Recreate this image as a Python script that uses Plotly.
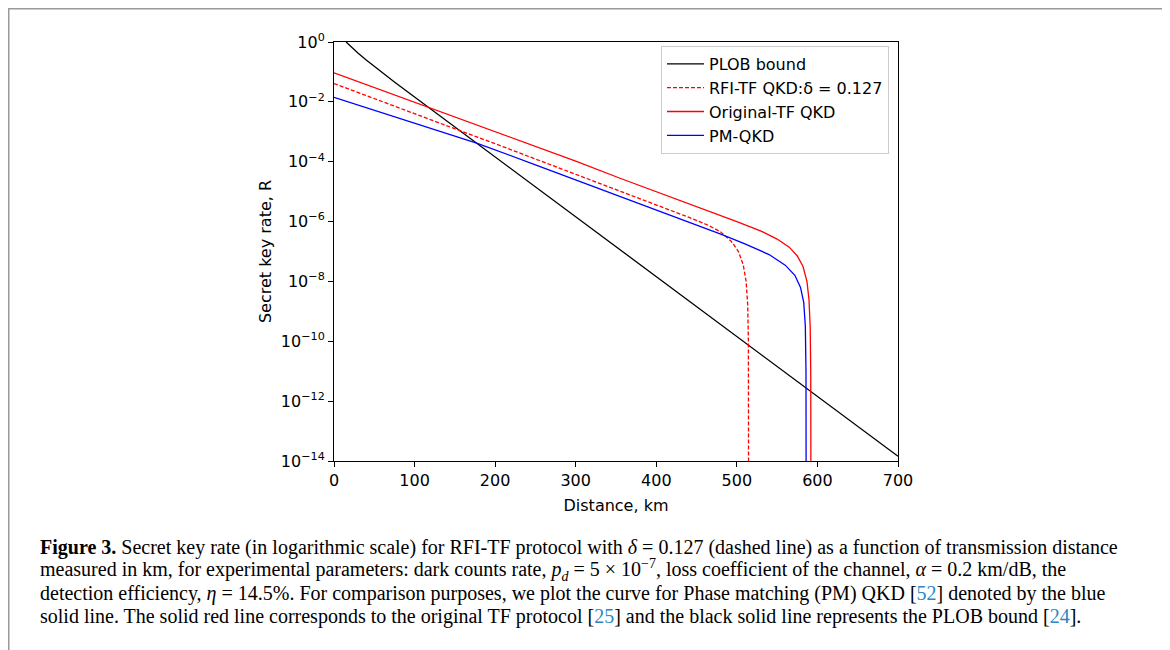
import plotly.graph_objects as go

# ---- data ----
plob_km = [15, 20, 30, 40, 50, 75, 100, 150, 200, 300, 400, 500, 600, 700]
plob_rate = [1.0, 0.73, 0.42, 0.25, 0.152, 0.046, 0.0145, 1.45e-3, 1.44e-4,
             1.44e-6, 1.44e-8, 1.44e-10, 1.44e-12, 1.44e-14]

rfi_km = [0, 50, 100, 154, 200, 300, 355, 400, 440, 465, 480, 493, 502,
          508, 511.5, 513.5, 514.3, 514.6]
rfi_rate = [0.041, 0.0126, 4.0e-3, 1.15e-3, 4.0e-4, 3.8e-5, 1.07e-5, 3.7e-6,
            1.4e-6, 7.4e-7, 4.5e-7, 2.2e-7, 1.0e-7, 3.5e-8, 1.0e-8, 1.6e-9,
            1.0e-10, 1e-16]

tf_km = [0, 50, 100, 150, 200, 300, 355, 400, 450, 500, 530, 550, 565, 575,
         582, 587, 589.5, 591, 591.7, 592]
tf_rate = [0.093, 0.030, 9.5e-3, 3.1e-3, 1.0e-3, 1.05e-4, 2.8e-5, 1.0e-5,
           3.2e-6, 1.0e-6, 4.8e-7, 2.6e-7, 1.4e-7, 7.1e-8, 3.2e-8, 1.0e-8,
           2.5e-9, 3.2e-10, 1e-11, 1e-16]

pm_km = [0, 50, 100, 177, 250, 300, 355, 400, 450, 480, 510, 540, 560, 572,
         579, 583, 585, 585.8, 586]
pm_rate = [0.0141, 5.2e-3, 2.0e-3, 4.2e-4, 7.9e-5, 2.5e-5, 6.8e-6, 2.4e-6,
           7.6e-7, 3.8e-7, 1.8e-7, 7.9e-8, 3.5e-8, 1.6e-8, 6.3e-9, 2.0e-9,
           3.2e-10, 1e-11, 1e-16]

x_ticks = [0, 100, 200, 300, 400, 500, 600, 700]
y_ticks = [1, 1e-2, 1e-4, 1e-6, 1e-8, 1e-10, 1e-12, 1e-14]
y_ticktext = ["10<sup>0</sup>", "10<sup>−2</sup>", "10<sup>−4</sup>", "10<sup>−6</sup>",
              "10<sup>−8</sup>", "10<sup>−10</sup>", "10<sup>−12</sup>", "10<sup>−14</sup>"]

series_names = ["PLOB bound", "RFI-TF QKD:δ = 0.127", "Original-TF QKD", "PM-QKD"]

caption_lines = [
    "<b>Figure 3.</b> Secret key rate (in logarithmic scale) for RFI-TF protocol with <i>δ</i> = 0.127 (dashed line) as a function of transmission distance",
    "measured in km, for experimental parameters: dark counts rate, <i>p<sub>d</sub></i> = 5 × 10<sup>−7</sup>, loss coefficient of the channel, <i>α</i> = 0.2 km/dB, the",
    "detection efficiency, <i>η</i> = 14.5%. For comparison purposes, we plot the curve for Phase matching (PM) QKD [<span style='color:#2b87c4'>52</span>] denoted by the blue",
    "solid line. The solid red line corresponds to the original TF protocol [<span style='color:#2b87c4'>25</span>] and the black solid line represents the PLOB bound [<span style='color:#2b87c4'>24</span>].",
]

# ---- figure (page body adds an 8 px margin, so the figure is 8 px smaller) ----
OFF = 8
W, H = 1170 - OFF, 650 - OFF
PX0, PX1, PY0, PY1 = 334, 898, 42, 461          # plot box in page pixels
L, R = PX0 - OFF, W - (PX1 - OFF)
T, B = PY0 - OFF, H - (PY1 - OFF)
pw, ph = PX1 - PX0, PY1 - PY0


def px(xp):
    return (xp - PX0) / pw


def py(yp):
    return (PY1 - yp) / ph


fig = go.Figure()
fig.add_trace(go.Scatter(x=plob_km, y=plob_rate, mode="lines", name=series_names[0],
                         legendgroup="a", line=dict(color="black", width=1.3)))
fig.add_trace(go.Scatter(x=rfi_km, y=rfi_rate, mode="lines", name=series_names[1],
                         legendgroup="b", line=dict(color="#ff0000", width=1.3, dash="4px,2px")))
fig.add_trace(go.Scatter(x=tf_km, y=tf_rate, mode="lines", name=series_names[2],
                         legendgroup="c", line=dict(color="#ff0000", width=1.3)))
fig.add_trace(go.Scatter(x=pm_km, y=pm_rate, mode="lines", name=series_names[3],
                         legendgroup="d", line=dict(color="#0000ff", width=1.3)))

axis_font = dict(family="DejaVu Sans", size=16, color="black")

fig.update_layout(
    width=W, height=H,
    margin=dict(l=L, r=R, t=T, b=B, pad=0),
    paper_bgcolor="white", plot_bgcolor="white",
    font=axis_font,
    showlegend=True,
    legend=dict(x=px(661), y=py(46), xanchor="left", yanchor="top",
                bgcolor="rgba(255,255,255,0.8)", bordercolor="#cccccc", borderwidth=1,
                font=dict(family="DejaVu Sans", size=16, color="black"),
                itemwidth=37, tracegroupgap=0, traceorder="normal"),
    xaxis=dict(range=[0, 700], tickvals=x_ticks, showgrid=False, zeroline=False,
               showline=True, linecolor="black", linewidth=1, mirror=True,
               ticks="outside", ticklen=5, tickwidth=1, tickcolor="black",
               title=dict(text="Distance, km", standoff=10, font=axis_font)),
    yaxis=dict(type="log", range=[-14, 0], tickvals=y_ticks, ticktext=y_ticktext,
               showgrid=False, zeroline=False,
               showline=True, linecolor="black", linewidth=1, mirror=True,
               ticks="outside", ticklen=5, tickwidth=1, tickcolor="black",
               title=dict(text="Secret key rate, R", standoff=5, font=axis_font)),
)

# outer frame of the figure panel
fig.add_shape(type="rect", xref="paper", yref="paper",
              x0=px(8.5), x1=px(1163), y0=py(690), y1=py(8.5),
              line=dict(color="#9a9a9a", width=2), fillcolor="rgba(0,0,0,0)", layer="below")

# caption lines
cap_y = [547, 569.5, 593.5, 616]
for text, yy in zip(caption_lines, cap_y):
    fig.add_annotation(text=text, xref="paper", yref="paper",
                       x=px(38), y=py(yy),
                       xanchor="left", yanchor="middle", showarrow=False, align="left",
                       font=dict(family="Liberation Serif", size=20, color="black"))

fig.write_html("out.html")
